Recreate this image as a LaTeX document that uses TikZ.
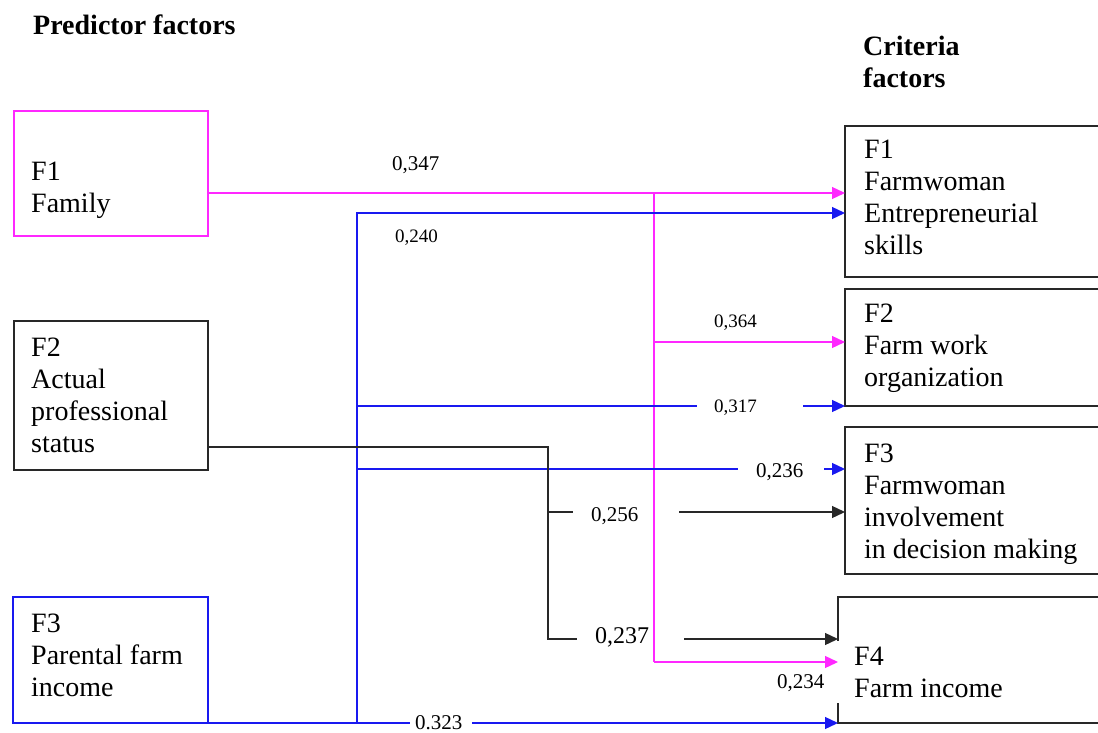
\documentclass[tikz,border=0pt]{standalone}
\usepackage{fontspec}
\setmainfont{Liberation Serif}
\usetikzlibrary{arrows.meta}
\definecolor{pinkc}{RGB}{255,40,255}
\definecolor{bluec}{RGB}{25,25,240}
\definecolor{darkc}{RGB}{40,40,40}
\begin{document}
\begin{tikzpicture}[x=1pt,y=-1pt,
  box/.style={rectangle,draw=darkc,line width=1.6pt,outer sep=0pt,inner sep=0pt,anchor=north west},
  body/.style={anchor=base west,inner sep=0pt,font=\fontsize{28}{32}\selectfont},
  head/.style={anchor=base west,inner sep=0pt,font=\fontsize{28}{32}\selectfont\bfseries},
  lab/.style={anchor=base west,inner sep=0pt,font=\fontsize{#1}{#1}\selectfont},
  lab/.default=21,
  conn/.style={line width=1.3pt},
  arr/.style={conn,-{Triangle[length=13pt,width=12pt]}},
  pinkline/.style={draw=pinkc},
  blueline/.style={draw=bluec},
  blackline/.style={draw=darkc}]
\useasboundingbox (0,0) rectangle (1098,733);
\clip (0,0) rectangle (1098,733);

% headers
\node[head] (hpred) at (33,35) {Predictor factors};
\node[head] (hcrit) at (863,56) {\begin{tabular}[t]{@{}l@{}}Criteria\\factors\end{tabular}};

% left boxes
\node[box,draw=pinkc,minimum width=194pt,minimum height=125pt] (lf1) at (14,111) {};
\node[box,minimum width=194pt,minimum height=149pt] (lf2) at (14,321) {};
\node[box,draw=bluec,minimum width=195pt,minimum height=126pt] (lf3) at (13,597) {};
\node[body] (lf1t) at (31,181) {\begin{tabular}[t]{@{}l@{}}F1\\Family\end{tabular}};
\node[body] (lf2t) at (31,356) {\begin{tabular}[t]{@{}l@{}}F2\\Actual\\professional\\status\end{tabular}};
\node[body] (lf3t) at (31,632) {\begin{tabular}[t]{@{}l@{}}F3\\Parental farm\\income\end{tabular}};

% right boxes
\node[box,minimum width=280pt,minimum height=151pt] (rf1) at (845,126) {};
\node[box,minimum width=280pt,minimum height=117pt] (rf2) at (845,289) {};
\node[box,minimum width=280pt,minimum height=147pt] (rf3) at (845,427) {};
\node[box,draw=none,minimum width=280pt,minimum height=126pt] (rf4) at (838,597) {};
\coordinate (f4a) at (838,641);
\coordinate (f4b) at (838,703);
\draw[darkc,line width=1.6pt] (rf4.north east) -- (rf4.north west) -- (f4a);
\draw[darkc,line width=1.6pt] (f4b) -- (rf4.south west) -- (rf4.south east);
\node[body] (rf1t) at (864,159) {\begin{tabular}[t]{@{}l@{}}F1\\Farmwoman\\Entrepreneurial\\skills\end{tabular}};
\node[body] (rf2t) at (864,322) {\begin{tabular}[t]{@{}l@{}}F2\\Farm work\\organization\end{tabular}};
\node[body] (rf3t) at (864,462) {\begin{tabular}[t]{@{}l@{}}F3\\Farmwoman\\involvement\\in decision making\end{tabular}};
\node[body] (rf4t) at (854,665) {\begin{tabular}[t]{@{}l@{}}F4\\Farm income\end{tabular}};

% junction coordinates
\coordinate (p1) at (654,193);
\coordinate (p2) at (654,342);
\coordinate (p3) at (654,662);
\coordinate (b0) at (357,723);
\coordinate (b1) at (357,213);
\coordinate (b2) at (357,406);
\coordinate (b3) at (357,469);
\coordinate (k1) at (548,447);
\coordinate (k2) at (548,512);
\coordinate (k3) at (548,639);
% gap ends
\coordinate (g317a) at (697,406);
\coordinate (g317b) at (803,406);
\coordinate (g236a) at (738,469);
\coordinate (g236b) at (824,469);
\coordinate (g256a) at (573,512);
\coordinate (g256b) at (679,512);
\coordinate (g237a) at (577,639);
\coordinate (g237b) at (684,639);
\coordinate (g323a) at (410,723);
\coordinate (g323b) at (472,723);

% pink connectors (F1 Family)
\draw[arr,pinkline] (lf1.east |- p1) -- (rf1.west |- p1);
\draw[conn,pinkline] (p1) -- (p3);
\draw[arr,pinkline] (p2) -- (rf2.west |- p2);
\draw[arr,pinkline] (p3) -- (rf4.west |- p3);

% blue connectors (F3 Parental farm income)
\draw[conn,blueline] (lf3.south east) -- (g323a);
\draw[arr,blueline] (g323b) -- (rf4.south west);
\draw[arr,blueline] (b0) -- (b1) -- (rf1.west |- b1);
\draw[conn,blueline] (b2) -- (g317a);
\draw[arr,blueline] (g317b) -- (rf2.south west);
\draw[conn,blueline] (b3) -- (g236a);
\draw[arr,blueline] (g236b) -- (rf3.west |- g236b);

% black connectors (F2 Actual professional status)
\draw[conn,blackline] (lf2.east |- k1) -- (k1) -- (k3) -- (g237a);
\draw[conn,blackline] (k2) -- (g256a);
\draw[arr,blackline] (g256b) -- (rf3.west |- g256b);
\draw[arr,blackline] (g237b) -- (rf4.west |- g237b);

% coefficient labels
\node[lab] (l347) at (392,171) {0,347};
\node[lab=19] (l240) at (395,242) {0,240};
\node[lab=19] (l364) at (714,327) {0,364};
\node[lab=19] (l317) at (714,412) {0,317};
\node[lab] (l236) at (756,477) {0,236};
\node[lab] (l256) at (591,521) {0,256};
\node[lab=24] (l237) at (595,643) {0,237};
\node[lab] (l234) at (777,688) {0,234};
\node[lab] (l323) at (415,729) {0.323};
\end{tikzpicture}
\end{document}
